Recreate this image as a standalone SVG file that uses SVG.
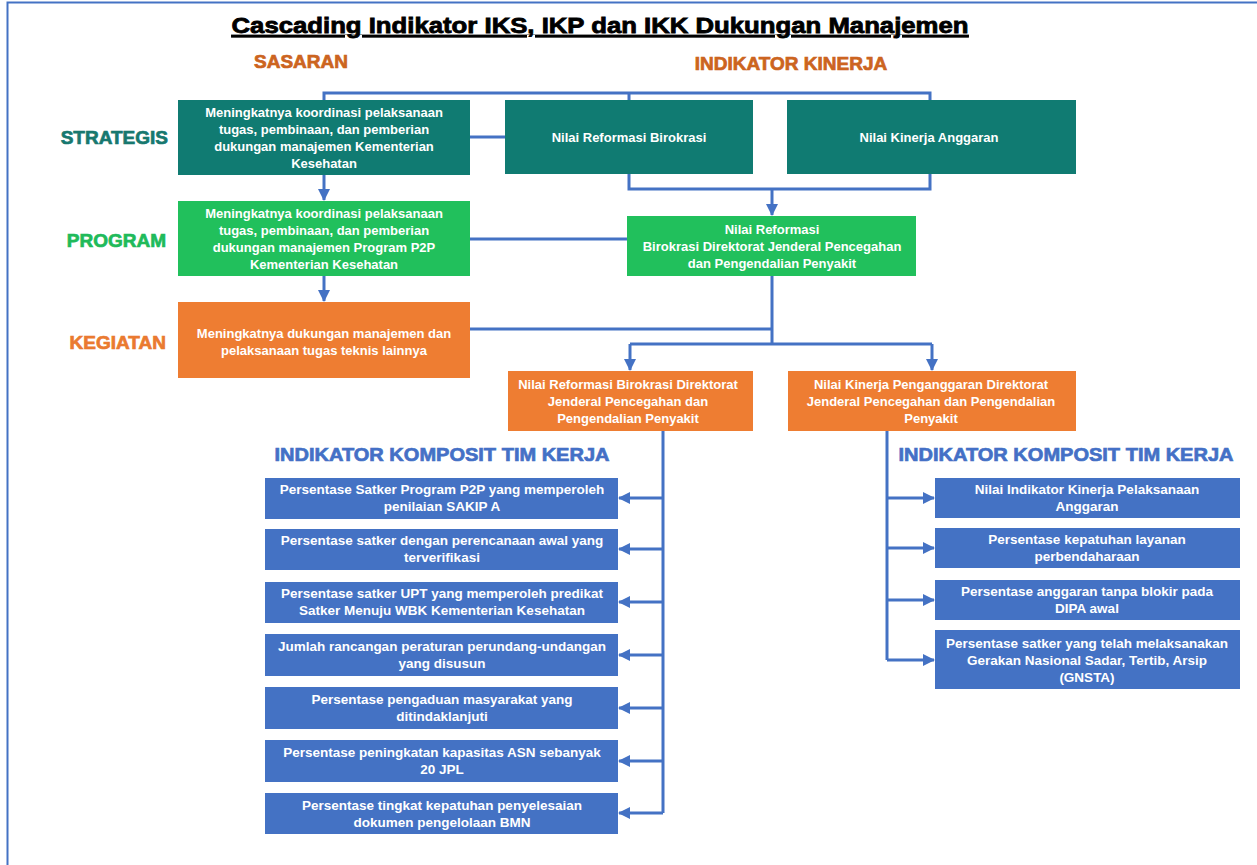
<svg xmlns="http://www.w3.org/2000/svg" width="1257" height="865" viewBox="0 0 1257 865">
<style>
.bt{font-family:"Liberation Sans",Arial,sans-serif;font-weight:bold;font-size:13px;fill:#fff;text-anchor:middle}
.lt{font-family:"Liberation Sans",Arial,sans-serif;font-weight:bold;font-size:13.5px;fill:#fff;text-anchor:middle}
.lab{font-family:"Liberation Sans",Arial,sans-serif;font-weight:bold;font-size:19px;stroke-width:0.7}
.teal{fill:#107b72}
.green{fill:#21c05c}
.orange{fill:#ee7d32}
.blue{fill:#4472c4}
.con{fill:none;stroke:#4472c4;stroke-width:3}
</style>
<defs>
<marker id="ah" markerWidth="12" markerHeight="12" refX="11" refY="6" orient="auto" markerUnits="userSpaceOnUse">
<path d="M0,0 L12,6 L0,12 z" fill="#4472c4"/>
</marker>
</defs>
<rect x="0" y="0" width="1257" height="865" fill="#fff"/>
<path d="M7.5,865 V2.5 H1257" fill="none" stroke="#4472c4" stroke-width="2"/>

<text x="600" y="33" text-anchor="middle" textLength="737" lengthAdjust="spacingAndGlyphs" text-decoration="underline" style="font-family:'Liberation Sans',Arial,sans-serif;font-weight:bold;font-size:22px;fill:#000;stroke:#000;stroke-width:0.8">Cascading Indikator IKS, IKP dan IKK Dukungan Manajemen</text>

<text class="lab" x="254" y="68" fill="#cc6420" stroke="#cc6420">SASARAN</text>
<text class="lab" x="791" y="70" text-anchor="middle" fill="#cc6420" stroke="#cc6420">INDIKATOR KINERJA</text>
<text class="lab" x="168" y="144" text-anchor="end" fill="#17786f" stroke="#17786f">STRATEGIS</text>
<text class="lab" x="166" y="247" text-anchor="end" fill="#20ba5a" stroke="#20ba5a">PROGRAM</text>
<text class="lab" x="166" y="349" text-anchor="end" fill="#ea7a30" stroke="#ea7a30">KEGIATAN</text>

<g id="connectors">
<path class="con" d="M324,100 V93 H930 V100 M629,93 V100"/>
<path class="con" d="M470,137 H505"/>
<path class="con" d="M629,174 V189 H930 V174"/>
<path class="con" d="M772,189 V215" marker-end="url(#ah)"/>
<path class="con" d="M324,175 V200" marker-end="url(#ah)"/>
<path class="con" d="M470,239 H627"/>
<path class="con" d="M324,276 V301" marker-end="url(#ah)"/>
<path class="con" d="M772,276 V344 M470,329 H772 M630,344 H932"/>
<path class="con" d="M630,344 V370" marker-end="url(#ah)"/>
<path class="con" d="M932,344 V370" marker-end="url(#ah)"/>
<path class="con" d="M663,431 V813"/>
<path class="con" d="M663,498 H619" marker-end="url(#ah)"/>
<path class="con" d="M663,549 H619" marker-end="url(#ah)"/>
<path class="con" d="M663,602 H619" marker-end="url(#ah)"/>
<path class="con" d="M663,655 H619" marker-end="url(#ah)"/>
<path class="con" d="M663,708 H619" marker-end="url(#ah)"/>
<path class="con" d="M663,761 H619" marker-end="url(#ah)"/>
<path class="con" d="M663,813 H619" marker-end="url(#ah)"/>
<path class="con" d="M887,431 V660"/>
<path class="con" d="M887,498 H934" marker-end="url(#ah)"/>
<path class="con" d="M887,548 H934" marker-end="url(#ah)"/>
<path class="con" d="M887,600 H934" marker-end="url(#ah)"/>
<path class="con" d="M887,660 H934" marker-end="url(#ah)"/>
</g>

<g id="s1"><rect class="teal" x="178" y="100" width="292" height="75"/>
<text class="bt" x="324" y="117">Meningkatnya koordinasi pelaksanaan</text>
<text class="bt" x="324" y="134">tugas, pembinaan, dan pemberian</text>
<text class="bt" x="324" y="151">dukungan manajemen Kementerian</text>
<text class="bt" x="324" y="168">Kesehatan</text></g>

<g id="nrb"><rect class="teal" x="505" y="100" width="248" height="74"/>
<text class="bt" x="629" y="142">Nilai Reformasi Birokrasi</text></g>

<g id="nka"><rect class="teal" x="787" y="100" width="289" height="74"/>
<text class="bt" x="929" y="142">Nilai Kinerja Anggaran</text></g>

<g id="p1"><rect class="green" x="178" y="201" width="292" height="75"/>
<text class="bt" x="324" y="218">Meningkatnya koordinasi pelaksanaan</text>
<text class="bt" x="324" y="235">tugas, pembinaan, dan pemberian</text>
<text class="bt" x="324" y="252">dukungan manajemen Program P2P</text>
<text class="bt" x="324" y="269">Kementerian Kesehatan</text></g>

<g id="n2"><rect class="green" x="627" y="216" width="289" height="60"/>
<text class="bt" x="772" y="234">Nilai Reformasi</text>
<text class="bt" x="772" y="251">Birokrasi Direktorat Jenderal Pencegahan</text>
<text class="bt" x="772" y="268">dan Pengendalian Penyakit</text></g>

<g id="k1"><rect class="orange" x="178" y="302" width="292" height="76"/>
<text class="bt" x="324" y="338">Meningkatnya dukungan manajemen dan</text>
<text class="bt" x="324" y="355">pelaksanaan tugas teknis lainnya</text></g>

<g id="o1"><rect class="orange" x="508" y="371" width="245" height="60"/>
<text class="bt" x="628" y="389">Nilai Reformasi Birokrasi Direktorat</text>
<text class="bt" x="628" y="406">Jenderal Pencegahan dan</text>
<text class="bt" x="628" y="423">Pengendalian Penyakit</text></g>

<g id="o2"><rect class="orange" x="788" y="371" width="288" height="60"/>
<text class="bt" x="931" y="389">Nilai Kinerja Penganggaran Direktorat</text>
<text class="bt" x="931" y="406">Jenderal Pencegahan dan Pengendalian</text>
<text class="bt" x="931" y="423">Penyakit</text></g>

<text class="lab" x="442" y="461" text-anchor="middle" textLength="335" lengthAdjust="spacingAndGlyphs" fill="#4470c6" stroke="#4470c6">INDIKATOR KOMPOSIT TIM KERJA</text>
<text class="lab" x="1066" y="461" text-anchor="middle" textLength="335" lengthAdjust="spacingAndGlyphs" fill="#4470c6" stroke="#4470c6">INDIKATOR KOMPOSIT TIM KERJA</text>

<g id="l1"><rect class="blue" x="265" y="478" width="353" height="41"/>
<text class="lt" x="442" y="494">Persentase Satker Program P2P yang memperoleh</text>
<text class="lt" x="442" y="511">penilaian SAKIP A</text></g>
<g id="l2"><rect class="blue" x="265" y="529" width="353" height="41"/>
<text class="lt" x="442" y="545">Persentase satker dengan perencanaan awal yang</text>
<text class="lt" x="442" y="562">terverifikasi</text></g>
<g id="l3"><rect class="blue" x="265" y="582" width="353" height="41"/>
<text class="lt" x="442" y="598">Persentase satker UPT yang memperoleh predikat</text>
<text class="lt" x="442" y="615">Satker Menuju WBK Kementerian Kesehatan</text></g>
<g id="l4"><rect class="blue" x="265" y="634" width="353" height="42"/>
<text class="lt" x="442" y="651">Jumlah rancangan peraturan perundang-undangan</text>
<text class="lt" x="442" y="668">yang disusun</text></g>
<g id="l5"><rect class="blue" x="265" y="687" width="353" height="42"/>
<text class="lt" x="442" y="704">Persentase pengaduan masyarakat yang</text>
<text class="lt" x="442" y="721">ditindaklanjuti</text></g>
<g id="l6"><rect class="blue" x="265" y="740" width="353" height="42"/>
<text class="lt" x="442" y="757">Persentase peningkatan kapasitas ASN sebanyak</text>
<text class="lt" x="442" y="774">20 JPL</text></g>
<g id="l7"><rect class="blue" x="265" y="793" width="353" height="41"/>
<text class="lt" x="442" y="810">Persentase tingkat kepatuhan penyelesaian</text>
<text class="lt" x="442" y="827">dokumen pengelolaan BMN</text></g>

<g id="r1"><rect class="blue" x="935" y="478" width="305" height="40"/>
<text class="lt" x="1087" y="494">Nilai Indikator Kinerja Pelaksanaan</text>
<text class="lt" x="1087" y="511">Anggaran</text></g>
<g id="r2"><rect class="blue" x="935" y="528" width="305" height="40"/>
<text class="lt" x="1087" y="544">Persentase kepatuhan layanan</text>
<text class="lt" x="1087" y="561">perbendaharaan</text></g>
<g id="r3"><rect class="blue" x="935" y="580" width="305" height="40"/>
<text class="lt" x="1087" y="596">Persentase anggaran tanpa blokir pada</text>
<text class="lt" x="1087" y="613">DIPA awal</text></g>
<g id="r4"><rect class="blue" x="935" y="630" width="305" height="59"/>
<text class="lt" x="1087" y="648">Persentase satker yang telah melaksanakan</text>
<text class="lt" x="1087" y="665">Gerakan Nasional Sadar, Tertib, Arsip</text>
<text class="lt" x="1087" y="682">(GNSTA)</text></g>
</svg>
